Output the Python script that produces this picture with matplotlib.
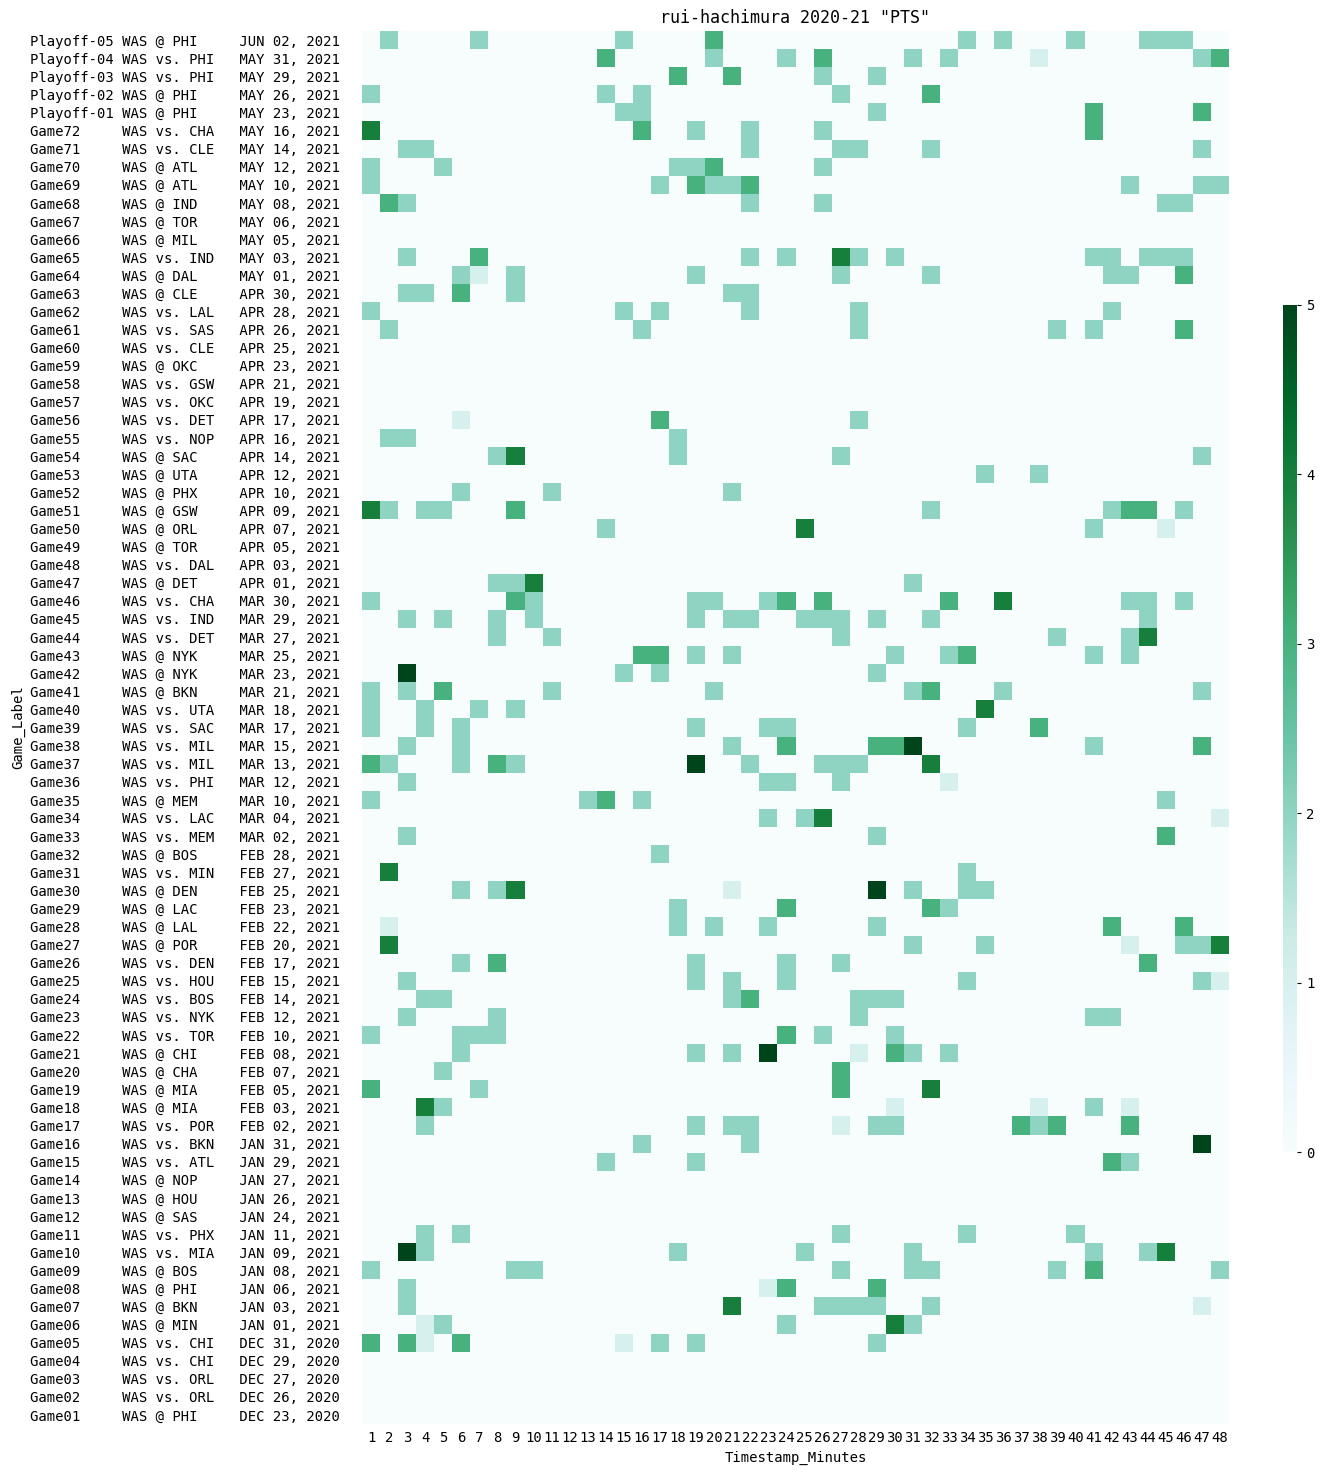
import numpy as np
import matplotlib
matplotlib.use("Agg")
import matplotlib.pyplot as plt
from matplotlib.colors import Normalize

plt.rcParams['font.family'] = ['DejaVu Sans Mono']

title = 'rui-hachimura 2020-21 "PTS"'
minutes = list(range(1, 49))

games = ["Playoff-05", "Playoff-04", "Playoff-03", "Playoff-02", "Playoff-01"] + \
        ["Game%02d" % n for n in range(72, 0, -1)]

matchups = [
    "WAS @ PHI", "WAS vs. PHI", "WAS vs. PHI", "WAS @ PHI", "WAS @ PHI",
    "WAS vs. CHA", "WAS vs. CLE", "WAS @ ATL", "WAS @ ATL", "WAS @ IND",
    "WAS @ TOR", "WAS @ MIL", "WAS vs. IND", "WAS @ DAL", "WAS @ CLE",
    "WAS vs. LAL", "WAS vs. SAS", "WAS vs. CLE", "WAS @ OKC", "WAS vs. GSW",
    "WAS vs. OKC", "WAS vs. DET", "WAS vs. NOP", "WAS @ SAC", "WAS @ UTA",
    "WAS @ PHX", "WAS @ GSW", "WAS @ ORL", "WAS @ TOR", "WAS vs. DAL",
    "WAS @ DET", "WAS vs. CHA", "WAS vs. IND", "WAS vs. DET", "WAS @ NYK",
    "WAS @ NYK", "WAS @ BKN", "WAS vs. UTA", "WAS vs. SAC", "WAS vs. MIL",
    "WAS vs. MIL", "WAS vs. PHI", "WAS @ MEM", "WAS vs. LAC", "WAS vs. MEM",
    "WAS @ BOS", "WAS vs. MIN", "WAS @ DEN", "WAS @ LAC", "WAS @ LAL",
    "WAS @ POR", "WAS vs. DEN", "WAS vs. HOU", "WAS vs. BOS", "WAS vs. NYK",
    "WAS vs. TOR", "WAS @ CHI", "WAS @ CHA", "WAS @ MIA", "WAS @ MIA",
    "WAS vs. POR", "WAS vs. BKN", "WAS vs. ATL", "WAS @ NOP", "WAS @ HOU",
    "WAS @ SAS", "WAS vs. PHX", "WAS vs. MIA", "WAS @ BOS", "WAS @ PHI",
    "WAS @ BKN", "WAS @ MIN", "WAS vs. CHI", "WAS vs. CHI", "WAS vs. ORL",
    "WAS vs. ORL", "WAS @ PHI",
]

dates = [
    "JUN 02, 2021", "MAY 31, 2021", "MAY 29, 2021", "MAY 26, 2021", "MAY 23, 2021",
    "MAY 16, 2021", "MAY 14, 2021", "MAY 12, 2021", "MAY 10, 2021", "MAY 08, 2021",
    "MAY 06, 2021", "MAY 05, 2021", "MAY 03, 2021", "MAY 01, 2021", "APR 30, 2021",
    "APR 28, 2021", "APR 26, 2021", "APR 25, 2021", "APR 23, 2021", "APR 21, 2021",
    "APR 19, 2021", "APR 17, 2021", "APR 16, 2021", "APR 14, 2021", "APR 12, 2021",
    "APR 10, 2021", "APR 09, 2021", "APR 07, 2021", "APR 05, 2021", "APR 03, 2021",
    "APR 01, 2021", "MAR 30, 2021", "MAR 29, 2021", "MAR 27, 2021", "MAR 25, 2021",
    "MAR 23, 2021", "MAR 21, 2021", "MAR 18, 2021", "MAR 17, 2021", "MAR 15, 2021",
    "MAR 13, 2021", "MAR 12, 2021", "MAR 10, 2021", "MAR 04, 2021", "MAR 02, 2021",
    "FEB 28, 2021", "FEB 27, 2021", "FEB 25, 2021", "FEB 23, 2021", "FEB 22, 2021",
    "FEB 20, 2021", "FEB 17, 2021", "FEB 15, 2021", "FEB 14, 2021", "FEB 12, 2021",
    "FEB 10, 2021", "FEB 08, 2021", "FEB 07, 2021", "FEB 05, 2021", "FEB 03, 2021",
    "FEB 02, 2021", "JAN 31, 2021", "JAN 29, 2021", "JAN 27, 2021", "JAN 26, 2021",
    "JAN 24, 2021", "JAN 11, 2021", "JAN 09, 2021", "JAN 08, 2021", "JAN 06, 2021",
    "JAN 03, 2021", "JAN 01, 2021", "DEC 31, 2020", "DEC 29, 2020", "DEC 27, 2020",
    "DEC 26, 2020", "DEC 23, 2020",
]

# points scored per minute: list of (minute, points) per game, top row first
pts_cells = [
    [(2, 2), (7, 2), (15, 2), (20, 3), (34, 2), (36, 2), (40, 2), (44, 2), (45, 2), (46, 2)],
    [(14, 3), (20, 2), (24, 2), (26, 3), (31, 2), (33, 2), (38, 1), (47, 2), (48, 3)],
    [(18, 3), (21, 3), (26, 2), (29, 2)],
    [(1, 2), (14, 2), (16, 2), (27, 2), (32, 3)],
    [(15, 2), (16, 2), (29, 2), (41, 3), (47, 3)],
    [(1, 4), (16, 3), (19, 2), (22, 2), (26, 2), (41, 3)],
    [(3, 2), (4, 2), (22, 2), (27, 2), (28, 2), (32, 2), (47, 2)],
    [(1, 2), (5, 2), (18, 2), (19, 2), (20, 3), (26, 2)],
    [(1, 2), (17, 2), (19, 3), (20, 2), (21, 2), (22, 3), (43, 2), (47, 2), (48, 2)],
    [(2, 3), (3, 2), (22, 2), (26, 2), (45, 2), (46, 2)],
    [],
    [],
    [(3, 2), (7, 3), (22, 2), (24, 2), (27, 4), (28, 2), (30, 2), (41, 2), (42, 2), (44, 2), (45, 2), (46, 2)],
    [(6, 2), (7, 1), (9, 2), (19, 2), (27, 2), (32, 2), (42, 2), (43, 2), (46, 3)],
    [(3, 2), (4, 2), (6, 3), (9, 2), (21, 2), (22, 2)],
    [(1, 2), (15, 2), (17, 2), (22, 2), (28, 2), (42, 2)],
    [(2, 2), (16, 2), (28, 2), (39, 2), (41, 2), (46, 3)],
    [],
    [],
    [],
    [],
    [(6, 1), (17, 3), (28, 2)],
    [(2, 2), (3, 2), (18, 2)],
    [(8, 2), (9, 4), (18, 2), (27, 2), (47, 2)],
    [(35, 2), (38, 2)],
    [(6, 2), (11, 2), (21, 2)],
    [(1, 4), (2, 2), (4, 2), (5, 2), (9, 3), (32, 2), (42, 2), (43, 3), (44, 3), (46, 2)],
    [(14, 2), (25, 4), (41, 2), (45, 1)],
    [],
    [],
    [(8, 2), (9, 2), (10, 4), (31, 2)],
    [(1, 2), (9, 3), (10, 2), (19, 2), (20, 2), (23, 2), (24, 3), (26, 3), (33, 3), (36, 4), (43, 2), (44, 2), (46, 2)],
    [(3, 2), (5, 2), (8, 2), (10, 2), (19, 2), (21, 2), (22, 2), (25, 2), (26, 2), (27, 2), (29, 2), (32, 2), (44, 2)],
    [(8, 2), (11, 2), (27, 2), (39, 2), (43, 2), (44, 4)],
    [(16, 3), (17, 3), (19, 2), (21, 2), (30, 2), (33, 2), (34, 3), (41, 2), (43, 2)],
    [(3, 5), (15, 2), (17, 2), (29, 2)],
    [(1, 2), (3, 2), (5, 3), (11, 2), (20, 2), (31, 2), (32, 3), (36, 2), (47, 2)],
    [(1, 2), (4, 2), (7, 2), (9, 2), (35, 4)],
    [(1, 2), (4, 2), (6, 2), (19, 2), (23, 2), (24, 2), (34, 2), (38, 3)],
    [(3, 2), (6, 2), (21, 2), (24, 3), (29, 3), (30, 3), (31, 5), (41, 2), (47, 3)],
    [(1, 3), (2, 2), (6, 2), (8, 3), (9, 2), (19, 5), (22, 2), (26, 2), (27, 2), (28, 2), (32, 4)],
    [(3, 2), (23, 2), (24, 2), (27, 2), (33, 1)],
    [(1, 2), (13, 2), (14, 3), (16, 2), (45, 2)],
    [(23, 2), (25, 2), (26, 4), (48, 1)],
    [(3, 2), (29, 2), (45, 3)],
    [(17, 2)],
    [(2, 4), (34, 2)],
    [(6, 2), (8, 2), (9, 4), (21, 1), (29, 5), (31, 2), (34, 2), (35, 2)],
    [(18, 2), (24, 3), (32, 3), (33, 2)],
    [(2, 1), (18, 2), (20, 2), (23, 2), (29, 2), (42, 3), (46, 3)],
    [(2, 4), (31, 2), (35, 2), (43, 1), (46, 2), (47, 2), (48, 4)],
    [(6, 2), (8, 3), (19, 2), (24, 2), (27, 2), (44, 3)],
    [(3, 2), (19, 2), (21, 2), (24, 2), (34, 2), (47, 2), (48, 1)],
    [(4, 2), (5, 2), (21, 2), (22, 3), (28, 2), (29, 2), (30, 2)],
    [(3, 2), (8, 2), (28, 2), (41, 2), (42, 2)],
    [(1, 2), (6, 2), (7, 2), (8, 2), (24, 3), (26, 2), (30, 2)],
    [(6, 2), (19, 2), (21, 2), (23, 5), (28, 1), (30, 3), (31, 2), (33, 2)],
    [(5, 2), (27, 3)],
    [(1, 3), (7, 2), (27, 3), (32, 4)],
    [(4, 4), (5, 2), (30, 1), (38, 1), (41, 2), (43, 1)],
    [(4, 2), (19, 2), (21, 2), (22, 2), (27, 1), (29, 2), (30, 2), (37, 3), (38, 2), (39, 3), (43, 3)],
    [(16, 2), (22, 2), (47, 5)],
    [(14, 2), (19, 2), (42, 3), (43, 2)],
    [],
    [],
    [],
    [(4, 2), (6, 2), (27, 2), (34, 2), (40, 2)],
    [(3, 5), (4, 2), (18, 2), (25, 2), (31, 2), (41, 2), (44, 2), (45, 4)],
    [(1, 2), (9, 2), (10, 2), (27, 2), (31, 2), (32, 2), (39, 2), (41, 3), (48, 2)],
    [(3, 2), (23, 1), (24, 3), (29, 3)],
    [(3, 2), (21, 4), (26, 2), (27, 2), (28, 2), (29, 2), (32, 2), (47, 1)],
    [(4, 1), (5, 2), (24, 2), (30, 4), (31, 2)],
    [(1, 3), (3, 3), (4, 1), (6, 3), (15, 1), (17, 2), (19, 2), (29, 2)],
    [],
    [],
    [],
    [],
]

n_rows = len(games)
n_cols = len(minutes)
grid = np.zeros((n_rows, n_cols))
for r, cells in enumerate(pts_cells):
    for m, v in cells:
        grid[r, minutes.index(m)] = v

labels = [f"{g:<10} {mu:<13} {d}" for g, mu, d in zip(games, matchups, dates)]

W, H = 1323, 1473
fig = plt.figure(figsize=(W / 100, H / 100), dpi=100)
ax = fig.add_axes([362 / W, 1 - 1424 / H, (1229 - 362) / W, (1424 - 31) / H])
cax = fig.add_axes([1283 / W, 1 - 1152 / H, 14 / W, 847 / H])

norm = Normalize(vmin=0, vmax=5)
mesh = ax.pcolormesh(np.arange(n_cols + 1), np.arange(n_rows + 1), grid,
                     cmap="BuGn", norm=norm)
ax.set_xlim(0, n_cols)
ax.set_ylim(n_rows, 0)
for s in ax.spines.values():
    s.set_visible(False)

ax.set_xticks(np.arange(n_cols) + 0.5)
ax.set_xticklabels([str(m) for m in minutes], fontsize=10)
ax.set_yticks(np.arange(n_rows) + 0.5)
ax.set_yticklabels(labels, fontsize=10)
ax.tick_params(axis="x", length=0, pad=5)
ax.tick_params(axis="y", length=0, pad=16)
ax.set_xlabel("Timestamp_Minutes", fontsize=10, labelpad=4)
ax.set_ylabel("Game_Label", fontsize=10, labelpad=3)
ax.set_title(title, fontsize=12, pad=6)

cb = fig.colorbar(mesh, cax=cax)
cb.outline.set_visible(False)
cb.set_ticks([0, 1, 2, 3, 4, 5])
cb.ax.tick_params(labelsize=10, length=3, width=0.8)

fig.savefig("out.png", dpi=100)
